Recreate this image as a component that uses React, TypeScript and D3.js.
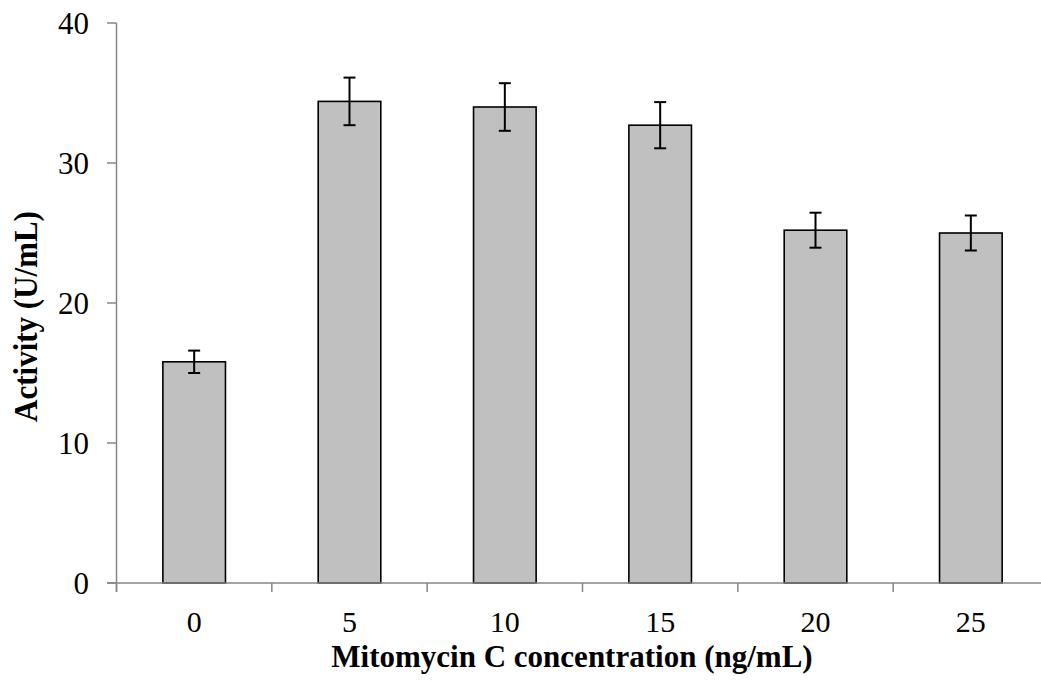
import React from "react";
import * as d3 from "d3";

const categories = ["0", "5", "10", "15", "20", "25"];
const activity = [15.8, 34.4, 34.0, 32.7, 25.2, 25.0];
const errors = [0.8, 1.7, 1.7, 1.65, 1.25, 1.25];
const yTicks = [0, 10, 20, 30, 40];

const W = 1041;
const H = 682;
const FONT = "'Liberation Serif', 'Times New Roman', serif";

export default function App() {
  const x = d3.scaleBand<string>().domain(categories).range([116.5, 1048.5]).padding(0);
  const y = d3.scaleLinear().domain([0, 40]).range([583, 23]);
  const barW = x.bandwidth() * 0.403;
  const capHalf = 6;
  const axisColor = "#868686";

  return (
    <svg width={W} height={H} style={{ position: "absolute", left: 0, top: 0, background: "#fff" }}>
      {/* bars */}
      {categories.map((c, i) => {
        const cx = (x(c) as number) + x.bandwidth() / 2;
        return (
          <rect
            key={c}
            x={cx - barW / 2}
            y={y(activity[i])}
            width={barW}
            height={y(0) - y(activity[i])}
            fill="#c0c0c0"
            stroke="#000"
            strokeWidth={1.6}
          />
        );
      })}
      {/* error bars */}
      {categories.map((c, i) => {
        const cx = (x(c) as number) + x.bandwidth() / 2;
        const hi = y(activity[i] + errors[i]);
        const lo = y(activity[i] - errors[i]);
        return (
          <g key={"e" + c} stroke="#000" strokeWidth={2}>
            <line x1={cx} x2={cx} y1={hi} y2={lo} />
            <line x1={cx - capHalf} x2={cx + capHalf} y1={hi} y2={hi} />
            <line x1={cx - capHalf} x2={cx + capHalf} y1={lo} y2={lo} />
          </g>
        );
      })}
      {/* y axis */}
      <line x1={116.5} x2={116.5} y1={y(40)} y2={592} stroke={axisColor} strokeWidth={1.5} />
      {yTicks.map((t) => (
        <g key={"yt" + t}>
          <line x1={107} x2={116.5} y1={y(t)} y2={y(t)} stroke={axisColor} strokeWidth={1.5} />
          <text
            x={89}
            y={y(t)}
            dy="0.35em"
            textAnchor="end"
            fontFamily={FONT}
            fontSize={31}
            fill="#000"
          >
            {t}
          </text>
        </g>
      ))}
      {/* x axis */}
      <line x1={107} x2={W} y1={y(0)} y2={y(0)} stroke={axisColor} strokeWidth={1.5} />
      {categories.map((c) => (
        <line
          key={"xt" + c}
          x1={(x(c) as number)}
          x2={(x(c) as number)}
          y1={y(0)}
          y2={592}
          stroke={axisColor}
          strokeWidth={1.5}
        />
      ))}
      {categories.map((c) => (
        <text
          key={"xl" + c}
          x={(x(c) as number) + x.bandwidth() / 2}
          y={632}
          textAnchor="middle"
          fontFamily={FONT}
          fontSize={30}
          fill="#000"
        >
          {c}
        </text>
      ))}
      {/* axis titles */}
      <text
        x={572}
        y={667}
        textAnchor="middle"
        fontFamily={FONT}
        fontWeight="bold"
        fontSize={31}
        fill="#000"
      >
        Mitomycin C concentration (ng/mL)
      </text>
      <text
        transform="translate(37,316.5) rotate(-90) scale(1,1.12)"
        textAnchor="middle"
        fontFamily={FONT}
        fontWeight="bold"
        fontSize={31}
        fill="#000"
      >
        Activity (U/mL)
      </text>
    </svg>
  );
}
